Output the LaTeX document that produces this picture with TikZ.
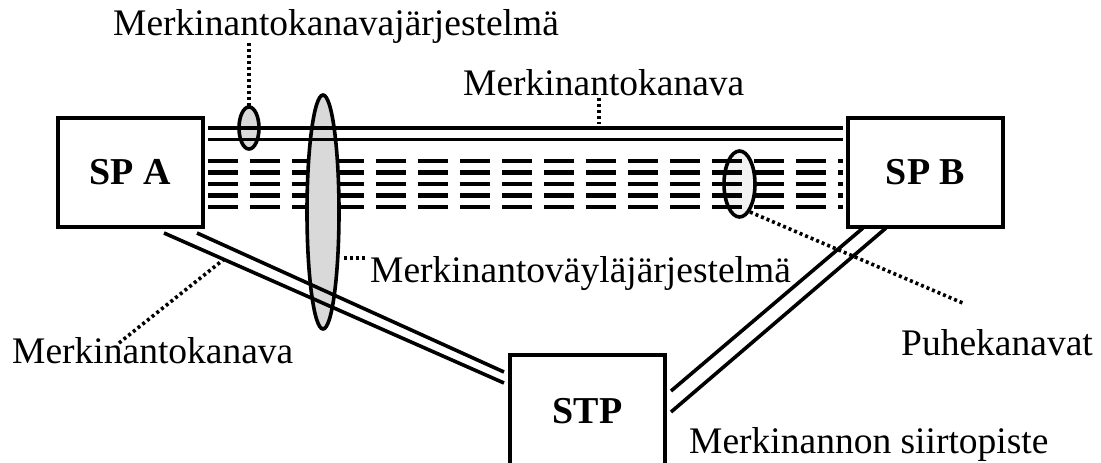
\documentclass[tikz,border=0pt]{standalone}
\usepackage{fontspec}
\setmainfont{Liberation Serif}
\begin{document}
\begin{tikzpicture}[x=1pt,y=-1pt,
  boxnode/.style={draw,line width=3.8pt,fill=white,inner sep=0pt,font=\fontsize{38}{44}\selectfont\bfseries},
  lab/.style={inner sep=0pt,anchor=base west,font=\fontsize{37.5}{44}\selectfont},
  chan/.style={line width=3.6pt},
  voice/.style={line width=4.5pt,dash pattern=on 30pt off 12pt},
  dots/.style={line width=3.6pt,dash pattern=on 3pt off 3pt},
  ell/.style={line width=3.6pt}]
\clip (0,0) rectangle (1101,463);
\fill[white] (0,0) rectangle (1101,463);
% coordinates
\coordinate (cl1) at (208,128); \coordinate (cr1) at (843,128);
\coordinate (cl2) at (208,139.5); \coordinate (cr2) at (843,139.5);
\foreach \i/\yy in {1/161,2/172.5,3/184,4/195.5,5/207}{
  \coordinate (vl\i) at (208,\yy); \coordinate (vr\i) at (843,\yy);}
\coordinate (a1) at (164,233); \coordinate (s1) at (504,383);
\coordinate (a2) at (197,233); \coordinate (s2) at (504,372);
\coordinate (s3) at (671,391); \coordinate (b3) at (863,228);
\coordinate (s4) at (671,412); \coordinate (b4) at (886,228);
% ellipse fills
\fill[gray!10] (739.5,184) ellipse [x radius=15.5, y radius=33];
\fill[gray!30] (249,128) ellipse [x radius=10, y radius=21];
% voice channels
\foreach \i in {1,...,5}{\draw[voice] (vl\i) -- (vr\i);}
% big ellipse
\draw[ell,fill=gray!30] (323,212) ellipse [x radius=16, y radius=117];
% signalling channel lines
\draw[chan] (cl1) -- (cr1);
\draw[chan] (cl2) -- (cr2);
\draw[chan] (a1) -- (s1);
\draw[chan] (a2) -- (s2);
\draw[chan] (s3) -- (b3);
\draw[chan] (s4) -- (b4);
% ellipse outlines
\draw[ell] (739.5,184) ellipse [x radius=15.5, y radius=33];
\draw[ell] (249,128) ellipse [x radius=10, y radius=21];
% boxes
\node[boxnode,minimum width=145pt,minimum height=109pt] (spa) at (130.5,172.5) {SP A};
\node[boxnode,minimum width=155pt,minimum height=109pt] (spb) at (925.5,172.5) {SP B};
\node[boxnode,minimum width=155pt,minimum height=112pt] (stp) at (587.5,411) {STP};
% labels
\node[lab] (l1) at (113,35) {Merkinantokanavajärjestelmä};
\node[lab] (l2) at (463,95) {Merkinantokanava};
\node[lab] (l3) at (370,282) {Merkinantoväyläjärjestelmä};
\node[lab] (l4) at (12,363) {Merkinantokanava};
\node[lab] (l5) at (901,355) {Puhekanavat};
\node[lab] (l6) at (689,453) {Merkinannon siirtopiste};
% dotted leaders
\coordinate (d1a) at (249,43); \coordinate (d1b) at (249,107);
\coordinate (d2a) at (599,98); \coordinate (d2b) at (599,124);
\coordinate (d3a) at (344,258); \coordinate (d3b) at (366,258);
\coordinate (d4a) at (119,343); \coordinate (d4b) at (223,260);
\coordinate (d5a) at (750,212); \coordinate (d5b) at (965,304);
\draw[dots] (d1a) -- (d1b);
\draw[dots] (d2a) -- (d2b);
\draw[dots] (d3a) -- (d3b);
\draw[dots] (d4a) -- (d4b);
\draw[dots] (d5a) -- (d5b);
\end{tikzpicture}
\end{document}
